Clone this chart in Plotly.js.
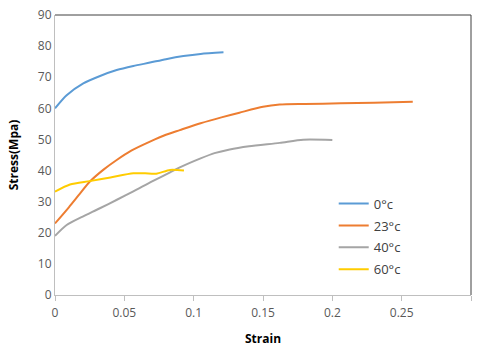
<!DOCTYPE html>
<html>
<head>
<meta charset="utf-8">
<script src="https://cdn.plot.ly/plotly-3.0.1.min.js"></script>
<style>html,body{margin:0;padding:0;background:#fff;}#chart{width:478px;height:347px;}</style>
</head>
<body>
<div id="chart"></div>
<script>
const seriesNames = ['0°c', '23°c', '40°c', '60°c'];
const seriesColors = ['#5B9BD5', '#ED7D31', '#A5A5A5', '#FFCC00'];

const strain0 = [0, 0.0084, 0.0204, 0.0325, 0.0445, 0.0565, 0.0685, 0.08, 0.0926, 0.105, 0.1215];
const stress0 = [60.0, 64.2, 68.0, 70.4, 72.3, 73.6, 74.7, 75.8, 76.8, 77.5, 78.0];

const strain23 = [0, 0.01, 0.018, 0.025, 0.035, 0.0445, 0.055, 0.0685, 0.08, 0.09, 0.105, 0.12, 0.133, 0.15, 0.162, 0.18, 0.206, 0.23, 0.258];
const stress23 = [23, 28.2, 32.6, 36.4, 40.3, 43.4, 46.4, 49.3, 51.5, 53.0, 55.2, 57.1, 58.6, 60.5, 61.2, 61.4, 61.6, 61.8, 62.1];

const strain40 = [0, 0.0084, 0.02, 0.032, 0.045, 0.0565, 0.07, 0.083, 0.09, 0.105, 0.115, 0.126, 0.14, 0.162, 0.179, 0.2];
const stress40 = [19, 22.5, 25.2, 27.8, 30.7, 33.3, 36.5, 39.4, 41.0, 43.9, 45.6, 46.8, 47.8, 48.9, 49.9, 49.8];

const strain60 = [0, 0.0108, 0.025, 0.04, 0.0565, 0.065, 0.073, 0.083, 0.093];
const stress60 = [33.2, 35.5, 36.6, 37.8, 39.1, 39.1, 39.0, 40.2, 40.0];

const xs = [strain0, strain23, strain40, strain60];
const ys = [stress0, stress23, stress40, stress60];

const xTicks = [0, 0.05, 0.1, 0.15, 0.2, 0.25, 0.3];
const xTickText = ['0', '0.05', '0.1', '0.15', '0.2', '0.25', '0.3'];
const yTicks = [0, 10, 20, 30, 40, 50, 60, 70, 80, 90];

const traces = seriesNames.map((n, i) => ({
  x: xs[i], y: ys[i], name: n, type: 'scatter', mode: 'lines', legendgroup: 'g' + i,
  line: {color: seriesColors[i], width: 2, shape: 'spline', smoothing: 0.7}
}));

const layout = {
  width: 478, height: 347,
  margin: {l: 55, r: 7, t: 15, b: 52},
  paper_bgcolor: '#fff', plot_bgcolor: '#fff',
  font: {family: '"Open Sans", "DejaVu Sans", sans-serif', size: 12, color: '#595959'},
  showlegend: true,
  legend: {x: 0.67, y: 0.38, xanchor: 'left', yanchor: 'top', bgcolor: 'rgba(0,0,0,0)',
           font: {size: 13, color: '#404040'}, tracegroupgap: 2, itemwidth: 30},
  xaxis: {
    range: [0, 0.3], tickvals: xTicks, ticktext: xTickText,
    showgrid: false, zeroline: false, showline: true, linecolor: '#BFBFBF', linewidth: 1,
    ticks: 'outside', ticklen: 5, tickcolor: '#BFBFBF', mirror: false, ticklabelstandoff: 2,
    title: {text: 'Strain', font: {size: 12, color: '#000', weight: 'bold'}, standoff: 18}
  },
  yaxis: {
    range: [0, 90], tickvals: yTicks,
    showgrid: false, zeroline: false, showline: true, linecolor: '#BFBFBF', linewidth: 1,
    ticks: '', ticklen: 0,
    title: {text: 'Stress(Mpa)', font: {size: 12, color: '#000', weight: 'bold'}, standoff: 16}
  },
  shapes: [
    {type: 'line', xref: 'paper', yref: 'paper', x0: 0, x1: 1, y0: 1, y1: 1, line: {color: '#404040', width: 1}},
    {type: 'line', xref: 'paper', yref: 'paper', x0: 1, x1: 1, y0: 0, y1: 1, line: {color: '#404040', width: 1}}
  ]
};

Plotly.newPlot('chart', traces, layout, {displayModeBar: false, staticPlot: true});
</script>
</body>
</html>
